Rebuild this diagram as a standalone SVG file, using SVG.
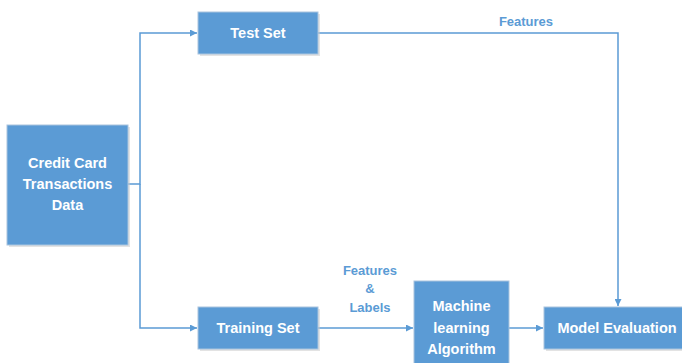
<svg xmlns="http://www.w3.org/2000/svg" width="682" height="363" viewBox="0 0 682 363">
<style>
.box{fill:#5b9bd5;stroke:#a9c4de;stroke-width:1}
.shadow{fill:#c8c8c8;opacity:0.5}
.t{font-family:"Liberation Sans",Arial,sans-serif;font-weight:bold;font-size:14.5px;fill:#ffffff;text-anchor:middle;dominant-baseline:central}
.lbl{font-family:"Liberation Sans",Arial,sans-serif;font-weight:bold;font-size:13px;fill:#5b9bd5;text-anchor:middle;dominant-baseline:central}
.c{fill:none;stroke:#5b9bd5;stroke-width:1.5}
</style>
<defs>
<marker id="ah" viewBox="0 0 10 10" refX="10" refY="5" markerWidth="7" markerHeight="7" markerUnits="userSpaceOnUse" orient="auto">
<path d="M0,0 L10,5 L0,10 z" fill="#5b9bd5"/>
</marker>
</defs>
<g id="connectors">
<path class="c" d="M128,184 H140 V33 H197" marker-end="url(#ah)"/>
<path class="c" d="M140,184 V328 H197" marker-end="url(#ah)"/>
<path class="c" d="M318,33 H618 V306" marker-end="url(#ah)"/>
<path class="c" d="M318,328 H413" marker-end="url(#ah)"/>
<path class="c" d="M509,328 H543" marker-end="url(#ah)"/>
</g>
<g id="labels">
<text class="lbl" x="526" y="21">Features</text>
<text class="lbl" x="370" y="270">Features</text>
<text class="lbl" x="370" y="288">&amp;</text>
<text class="lbl" x="370" y="307">Labels</text>
</g>
<g id="credit-card-data">
<rect class="shadow" x="9" y="127" width="121" height="120"/>
<rect class="box" x="7" y="125" width="121" height="120"/>
<text class="t" x="67.5" y="163">Credit Card</text>
<text class="t" x="67.5" y="184">Transactions</text>
<text class="t" x="67.5" y="205">Data</text>
</g>
<g id="test-set">
<rect class="shadow" x="200" y="14" width="120" height="42"/>
<rect class="box" x="198" y="12" width="120" height="42"/>
<text class="t" x="258" y="33">Test Set</text>
</g>
<g id="training-set">
<rect class="shadow" x="200" y="309" width="120" height="42"/>
<rect class="box" x="198" y="307" width="120" height="42"/>
<text class="t" x="258" y="328">Training Set</text>
</g>
<g id="ml-algorithm">
<rect class="box" x="414" y="281" width="95" height="90"/>
<text class="t" x="461.5" y="306">Machine</text>
<text class="t" x="461.5" y="328">learning</text>
<text class="t" x="461.5" y="349">Algorithm</text>
</g>
<g id="model-evaluation">
<rect class="shadow" x="546" y="309" width="150" height="42"/>
<rect class="box" x="544" y="307" width="150" height="42"/>
<text class="t" x="617" y="328">Model Evaluation</text>
</g>
</svg>
